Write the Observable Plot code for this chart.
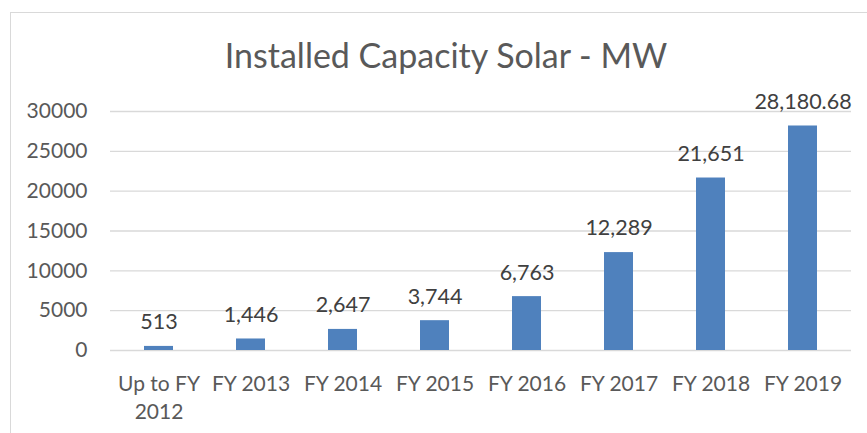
<!DOCTYPE html>
<html>
<head>
<meta charset="utf-8">
<script src="https://cdn.jsdelivr.net/npm/d3@7"></script>
<script src="https://cdn.jsdelivr.net/npm/@observablehq/plot@0.6"></script>
<style>
  html, body { margin: 0; padding: 0; background: #fff; }
  #wrap { position: relative; width: 867px; height: 433px; overflow: hidden; }
  #frame { position: absolute; left: 10px; top: 12px; width: 870px; height: 440px;
           border-left: 1.5px solid #d9d9d9; border-top: 1.5px solid #d9d9d9; }
  #chart { position: absolute; left: 0; top: 0; }
</style>
</head>
<body>
<div id="wrap"><div id="frame"></div><div id="chart"></div></div>
<script>
const title = "Installed Capacity Solar - MW";
const categories = ["Up to FY 2012", "FY 2013", "FY 2014", "FY 2015", "FY 2016", "FY 2017", "FY 2018", "FY 2019"];
const values = [513, 1446, 2647, 3744, 6763, 12289, 21651, 28180.68];
const valueLabels = ["513", "1,446", "2,647", "3,744", "6,763", "12,289", "21,651", "28,180.68"];
const categoryLabels = ["Up to FY\n2012", "FY 2013", "FY 2014", "FY 2015", "FY 2016", "FY 2017", "FY 2018", "FY 2019"];
const yTicks = [0, 5000, 10000, 15000, 20000, 25000, 30000];

const data = categories.map((c, i) => ({cat: c, value: values[i], label: valueLabels[i], tick: categoryLabels[i]}));
const tickMap = new Map(data.map(d => [d.cat, d.tick]));

const font = "Lato, 'Open Sans', sans-serif";
const chart = Plot.plot({
  width: 867,
  height: 433,
  marginLeft: 110,
  marginRight: 16,
  marginTop: 111,
  marginBottom: 83,
  style: {fontFamily: font, fontSize: "21px", color: "#595959", background: "transparent", overflow: "visible"},
  x: {domain: categories, paddingInner: 0.687, paddingOuter: 0.3435, align: 0.5},
  y: {domain: [0, 30000]},
  marks: [
    Plot.gridY(yTicks, {stroke: "#d9d9d9", strokeOpacity: 1, strokeWidth: 1.3}),
    Plot.axisY(yTicks, {tickSize: 0, tickPadding: 23, label: null, fontSize: 21, fill: "#595959", tickFormat: d => String(d)}),
    Plot.axisX({tickSize: 0, tickPadding: 20, label: null, fontSize: 21, fill: "#595959", lineHeight: 1.35, tickFormat: d => tickMap.get(d)}),
    Plot.barY(data, {x: "cat", y: "value", fill: "#4f81bd"}),
    Plot.text(data, {x: "cat", y: "value", text: "label", dy: -24, fontSize: 21.5, fill: "#404040", lineAnchor: "middle"}),
    Plot.text([title], {frameAnchor: "top", dx: -35, dy: -54, fontSize: 34, fill: "#595959", lineAnchor: "middle"})
  ]
});
document.getElementById("chart").appendChild(chart);
</script>
</body>
</html>
